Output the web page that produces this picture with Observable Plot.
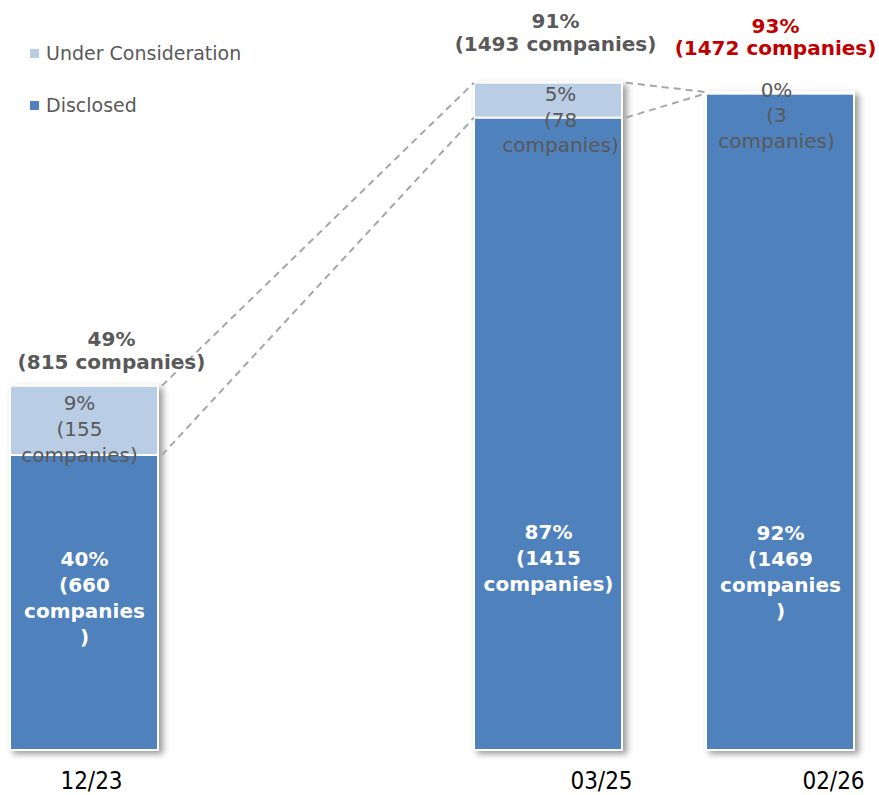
<!DOCTYPE html>
<html><head><meta charset="utf-8">
<script src="https://cdn.jsdelivr.net/npm/d3@7"></script>
<script src="https://cdn.jsdelivr.net/npm/@observablehq/plot@0.6"></script>
<style>
body{margin:0;background:#fff;}
#wrap{position:relative;width:879px;height:795px;}
.legend{position:absolute;left:30px;top:40px;font-family:"DejaVu Sans",sans-serif;font-size:19px;color:#595959;}
.legend .row{display:flex;align-items:center;height:26px;margin-bottom:26px;}
.legend .sw{width:9px;height:9px;margin-right:7px;}
</style></head><body>
<div id="wrap"></div>
<script>
// ---- data ----
const dates = ["12/23", "03/25", "02/26"];
const disclosed = [660, 1415, 1469];
const underConsideration = [155, 78, 3];
const totals = [815, 1493, 1472];
const disclosedLabels = ["40%\n(660\ncompanies\n)", "87%\n(1415\ncompanies)", "92%\n(1469\ncompanies\n)"];
const underLabels = ["9%\n(155\ncompanies)", "5%\n(78\ncompanies)", "0%\n(3\ncompanies)"];
const totalLabels = ["49%\n(815 companies)", "91%\n(1493 companies)", "93%\n(1472 companies)"];
const seriesNames = ["Disclosed", "Under Consideration"];
const legendOrder = ["Under Consideration", "Disclosed"];
const xDomain = ["12/23", "gap", "03/25", "02/26"];

// ---- styles ----
const seriesColors = ["#4F81BD", "#B9CDE5"];
const grey = "#595959";
const totalColors = [grey, grey, "#C00000"];
const disclosedOffsets = [[0, -6], [0, 122], [0, 148]];
const underOffsets = [[-5, 7], [12, 18], [-4, 21]];
const totalOffsets = [[27, -36], [7, -51], [-5, -56]];
const tickFont = "'Liberation Sans Narrow','Arial Narrow','DejaVu Sans Condensed',sans-serif";

const rows = dates.flatMap((d, i) => [
  {date: d, series: seriesNames[0], value: disclosed[i]},
  {date: d, series: seriesNames[1], value: underConsideration[i]}
]);

function label(i, y, text, off, opts) {
  return Plot.text([{date: dates[i], y, text}], {
    x: "date", y: "y", text: "text", dx: off[0], dy: off[1],
    fontSize: 20, ...opts
  });
}

const marks = [
  Plot.barY(rows, {x: "date", y: "value", fill: "series", z: "series", order: seriesNames, stroke: "white", strokeWidth: 2}),
  Plot.axisX({ticks: ["12/23"], label: null, tickSize: 0, tickPadding: 21, dx: 7, fontSize: 24, fontFamily: tickFont, color: "black"}),
  Plot.axisX({ticks: ["03/25", "02/26"], label: null, tickSize: 0, tickPadding: 21, dx: 53, fontSize: 24, fontFamily: tickFont, color: "black"})
];
dates.forEach((d, i) => {
  marks.push(label(i, disclosed[i] / 2, disclosedLabels[i], disclosedOffsets[i], {fill: "white", fontWeight: "bold", lineHeight: 1.3}));
  marks.push(label(i, disclosed[i] + underConsideration[i] / 2, underLabels[i], underOffsets[i], {fill: grey, lineHeight: 1.28}));
  marks.push(label(i, totals[i], totalLabels[i], totalOffsets[i], {fill: totalColors[i], fontWeight: "bold", lineHeight: 1.12}));
});

const plot = Plot.plot({
  width: 879, height: 795,
  marginLeft: 10, marginRight: 24, marginTop: 0, marginBottom: 45,
  x: {domain: xDomain, paddingInner: 0.36, paddingOuter: 0, axis: null, label: null},
  y: {domain: [0, 1678], axis: null},
  color: {domain: seriesNames, range: seriesColors},
  style: {fontFamily: "'DejaVu Sans', sans-serif", fontSize: "20px", background: "white", overflow: "visible"},
  marks
});

// shadow + connectors via the plot's own scales
const svg = d3.select(plot);
const defs = svg.insert("defs", ":first-child");
const f = defs.append("filter").attr("id", "shadow").attr("x", "-10%").attr("y", "-10%").attr("width", "130%").attr("height", "130%");
f.append("feDropShadow").attr("dx", 4).attr("dy", 3).attr("stdDeviation", 3).attr("flood-color", "#000").attr("flood-opacity", 0.4);
svg.select('g[aria-label="bar"]').attr("filter", "url(#shadow)");

const xs = plot.scale("x"), ys = plot.scale("y");
const bw = xs.bandwidth;
const connectors = [];
for (let i = 0; i < dates.length - 1; i++) {
  connectors.push([xs.apply(dates[i]) + bw, ys.apply(totals[i]), xs.apply(dates[i + 1]), ys.apply(totals[i + 1])]);
  connectors.push([xs.apply(dates[i]) + bw, ys.apply(disclosed[i]), xs.apply(dates[i + 1]), ys.apply(disclosed[i + 1])]);
}
svg.insert("g", 'g[aria-label="text"]').selectAll("line").data(connectors).join("line")
  .attr("x1", d => d[0] + 4).attr("y1", d => d[1])
  .attr("x2", d => d[2]).attr("y2", d => d[3])
  .attr("stroke", "#A6A6A6").attr("stroke-width", 2).attr("stroke-dasharray", "7,5");

const wrap = document.getElementById("wrap");
wrap.appendChild(plot);
const legend = d3.select(wrap).append("div").attr("class", "legend");
legendOrder.forEach(name => {
  const r = legend.append("div").attr("class", "row");
  r.append("div").attr("class", "sw").style("background", seriesColors[seriesNames.indexOf(name)]);
  r.append("span").text(name);
});
</script>
</body></html>
